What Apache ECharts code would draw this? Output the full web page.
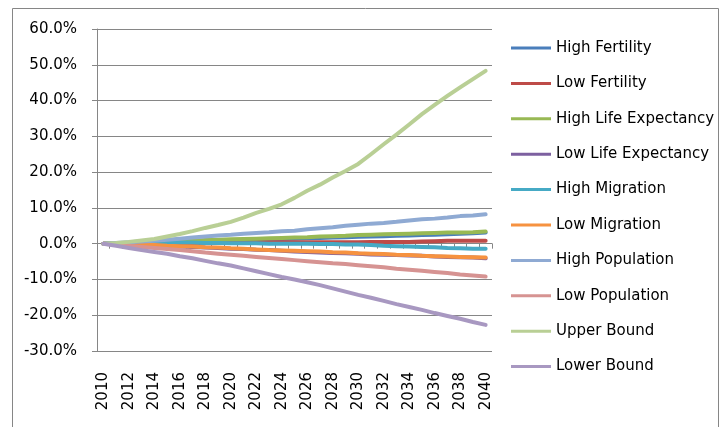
<!DOCTYPE html>
<html>
<head>
<meta charset="utf-8">
<script src="https://cdn.jsdelivr.net/npm/echarts@6/dist/echarts.min.js"></script>
<style>
  html, body { margin: 0; padding: 0; background: #fff; }
  #chart { width: 726px; height: 427px; }
</style>
</head>
<body>
<div id="chart"></div>
<script>
// Projected change relative to 2010 (%), one array per scenario
const years = [];
for (let y = 2010; y <= 2040; y++) years.push(String(y));

const highFertility = [0, 0.05, 0.1, 0.2, 0.3, 0.4, 0.5, 0.6, 0.7, 0.8, 0.9, 1.0, 1.1, 1.2, 1.3, 1.4, 1.5, 1.6, 1.7, 1.8, 1.9, 2.0, 2.1, 2.2, 2.3, 2.4, 2.5, 2.6, 2.8, 2.9, 3.1];
const lowFertility = [0, 0, 0.05, 0.1, 0.1, 0.15, 0.2, 0.2, 0.25, 0.3, 0.3, 0.35, 0.4, 0.4, 0.4, 0.4, 0.4, 0.4, 0.4, 0.4, 0.4, 0.5, 0.5, 0.5, 0.5, 0.6, 0.7, 0.8, 0.8, 0.8, 0.8];
const highLifeExpectancy = [0, 0.1, 0.2, 0.3, 0.4, 0.6, 0.7, 0.8, 1.0, 1.1, 1.2, 1.3, 1.4, 1.5, 1.6, 1.7, 1.8, 2.0, 2.1, 2.2, 2.4, 2.5, 2.6, 2.7, 2.8, 2.9, 3.0, 3.1, 3.1, 3.2, 3.4];
const lowLifeExpectancy = [0, -0.1, -0.2, -0.3, -0.5, -0.6, -0.8, -0.9, -1.1, -1.2, -1.4, -1.5, -1.7, -1.8, -2.0, -2.2, -2.3, -2.5, -2.6, -2.7, -2.8, -3.0, -3.1, -3.2, -3.3, -3.4, -3.6, -3.7, -3.8, -3.9, -4.1];
const highMigration = [0, 0.1, 0.2, 0.3, 0.3, 0.3, 0.3, 0.3, 0.2, 0.2, 0.1, 0.1, 0.1, 0.0, 0.0, 0.0, 0.0, -0.1, -0.1, -0.2, -0.2, -0.4, -0.6, -0.7, -0.8, -0.9, -1.0, -1.2, -1.3, -1.4, -1.4];
const lowMigration = [0, -0.1, -0.2, -0.3, -0.4, -0.6, -0.7, -0.8, -1.0, -1.1, -1.3, -1.4, -1.6, -1.8, -1.9, -2.0, -2.1, -2.2, -2.4, -2.5, -2.7, -2.8, -2.9, -3.1, -3.2, -3.4, -3.5, -3.6, -3.7, -3.8, -3.9];
const highPopulation = [0, 0.2, 0.4, 0.6, 0.8, 1.1, 1.4, 1.7, 2.0, 2.3, 2.5, 2.8, 3.0, 3.2, 3.5, 3.6, 4.0, 4.3, 4.6, 5.0, 5.3, 5.6, 5.8, 6.1, 6.5, 6.8, 7.0, 7.3, 7.7, 7.9, 8.2];
const lowPopulation = [0, -0.3, -0.6, -0.9, -1.2, -1.5, -1.8, -2.1, -2.5, -2.8, -3.1, -3.4, -3.7, -4.0, -4.3, -4.6, -4.9, -5.2, -5.5, -5.7, -6.0, -6.3, -6.6, -7.0, -7.3, -7.6, -7.9, -8.2, -8.6, -8.9, -9.2];
const upperBound = [0, 0.2, 0.5, 0.9, 1.3, 2.0, 2.7, 3.5, 4.4, 5.2, 6.1, 7.3, 8.6, 9.7, 11.0, 12.8, 14.8, 16.5, 18.5, 20.3, 22.3, 25.0, 27.8, 30.5, 33.3, 36.2, 38.8, 41.3, 43.7, 46.0, 48.3];
const lowerBound = [0, -0.6, -1.2, -1.8, -2.3, -2.8, -3.5, -4.1, -4.8, -5.5, -6.1, -6.9, -7.7, -8.5, -9.3, -10.0, -10.8, -11.6, -12.5, -13.4, -14.3, -15.1, -16.0, -16.9, -17.7, -18.5, -19.4, -20.2, -21.0, -21.9, -22.7];

const scenarios = [
  { name: 'High Fertility', data: highFertility, color: '#4A7EBB' },
  { name: 'Low Fertility', data: lowFertility, color: '#BE4B48' },
  { name: 'High Life Expectancy', data: highLifeExpectancy, color: '#98B954' },
  { name: 'Low Life Expectancy', data: lowLifeExpectancy, color: '#7D60A0' },
  { name: 'High Migration', data: highMigration, color: '#46AAC5' },
  { name: 'Low Migration', data: lowMigration, color: '#F69240' },
  { name: 'High Population', data: highPopulation, color: '#8FAAD3' },
  { name: 'Low Population', data: lowPopulation, color: '#D69392' },
  { name: 'Upper Bound', data: upperBound, color: '#B9CF95' },
  { name: 'Lower Bound', data: lowerBound, color: '#A898C1' }
];

const FONT = 'DejaVu Sans';
const AXIS_GREY = '#868686';

const chart = echarts.init(document.getElementById('chart'), null, { renderer: 'canvas' });

chart.setOption({
  animation: false,
  backgroundColor: '#ffffff',
  textStyle: { fontFamily: FONT },
  graphic: [{
    type: 'rect',
    shape: { x: 12.5, y: 8.5, width: 706, height: 440 },
    style: { fill: 'none', stroke: AXIS_GREY, lineWidth: 1 },
    silent: true
  }],
  grid: { left: 97, top: 29, width: 395, height: 322 },
  legend: {
    orient: 'vertical',
    left: 506,
    top: 35,
    itemWidth: 40,
    itemHeight: 16,
    itemGap: 19.4,
    icon: 'path://M0,0L40,0L40,3L0,3Z',
    textStyle: { fontFamily: FONT, fontSize: 15, color: '#000', lineHeight: 16 },
    data: scenarios.map(s => s.name)
  },
  xAxis: [{
    type: 'category',
    data: years,
    boundaryGap: true,
    position: 'bottom',
    axisLine: { show: false, onZero: false },
    axisTick: { show: false },
    axisLabel: {
      rotate: 90,
      interval: 1,
      margin: 21,
      fontFamily: FONT,
      fontSize: 15,
      color: '#000'
    },
    splitLine: { show: false }
  }, {
    type: 'category',
    data: years,
    boundaryGap: true,
    position: 'bottom',
    axisLine: { show: true, onZero: true, lineStyle: { color: AXIS_GREY, width: 1 } },
    axisTick: { show: true, length: 5, interval: 0, lineStyle: { color: AXIS_GREY } },
    axisLabel: { show: false },
    splitLine: { show: false }
  }],
  yAxis: {
    type: 'value',
    min: -30,
    max: 60,
    interval: 10,
    axisLine: { show: true, lineStyle: { color: AXIS_GREY, width: 1 } },
    axisTick: { show: true, length: 5, lineStyle: { color: AXIS_GREY } },
    axisLabel: {
      margin: 20,
      fontFamily: FONT,
      fontSize: 15,
      color: '#000',
      formatter: v => v.toFixed(1) + '%'
    },
    splitLine: { show: true, lineStyle: { color: AXIS_GREY, width: 1 } }
  },
  series: scenarios.map(s => ({
    name: s.name,
    type: 'line',
    data: s.data,
    symbol: 'none',
    smooth: false,
    color: s.color,
    lineStyle: { color: s.color, width: 4, cap: 'round', join: 'round' }
  }))
});
</script>
</body>
</html>
